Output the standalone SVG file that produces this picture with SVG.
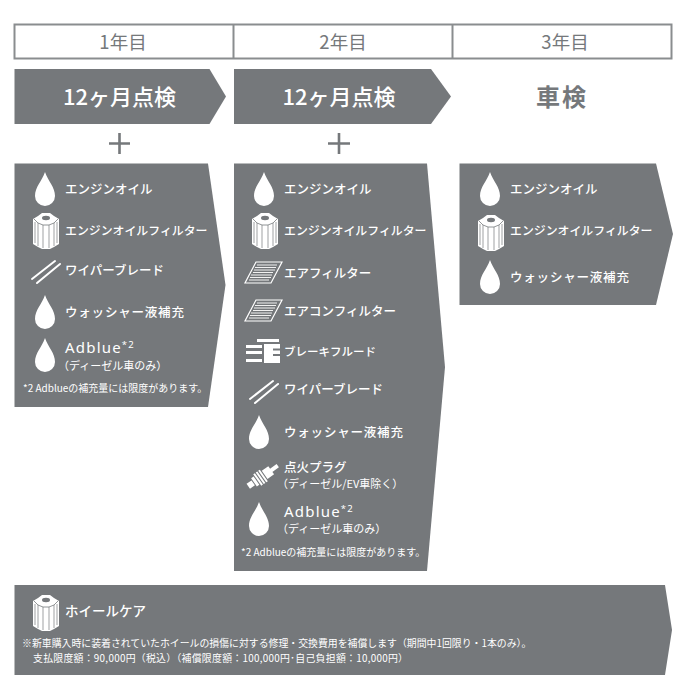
<svg xmlns="http://www.w3.org/2000/svg" width="685" height="687" viewBox="0 0 685 687">
<style>
text{font-family:"Noto Sans CJK JP","Noto Sans",sans-serif}
.p{fill:#75787b}
.h{font-size:18.500px;fill:#75787b;text-anchor:middle}
.t{font-size:22px;fill:#fff;text-anchor:middle;font-weight:500}
.i{font-size:12.500px;fill:#fff;font-weight:500}
.m{font-size:11.900px;fill:#fff;font-weight:500}
.u{font-size:12.500px;fill:#fff;font-weight:500;letter-spacing:.8px}
.s{font-size:11px;fill:#fff}
.n{font-size:10px;fill:#fff}
.a{font-size:15px;fill:#fff;font-family:"Noto Sans",sans-serif;letter-spacing:1.200px}
.f{font-size:9.900px;fill:#fff}
.w{fill:none;stroke:#fff;stroke-width:2;stroke-linecap:round}
.l{fill:none;stroke:#8a8d8f;stroke-width:2}
.plus{stroke:#75787b;stroke-width:2.600;fill:none}
</style>
<defs>
<path id="drop" d="M0-17C-3-8-10-2-10 7A10 10 0 0 0 10 7C10-2 3-8 0-17Z" fill="#fff"/>
<g id="filter">
<path d="M-13-11-8-14-4-17H4L8-14 13-11V14L8 17 4 19H-4L-8 17-13 14Z" fill="#fff"/>
<path d="M-8-7V16M-3-5V18M3-5V18M8-7V16M-11-8V13M11-8V13" stroke="#75787b" stroke-width=".7" fill="none"/>
<path d="M-12-11-8-7-3-5H3L8-7 12-11" stroke="#75787b" stroke-width=".8" fill="none"/>
<ellipse cx="0" cy="-12" rx="4" ry="2.200" fill="#75787b"/>
</g>
<g id="wiper"><path class="w" d="M-14 9 9-9M-9 13 14-6"/></g>
<g id="air">
<path d="M-7-11H19L8 10H-18Z" fill="none" stroke="#fff" stroke-width="1.200"/>
<path d="M-6-8H14M-8-5.500H13M-9-3H12M-10-.5H10M-12 2H9M-13 4.500H8M-14 7H6" stroke="#fff" stroke-width=".9"/>
</g>
<g id="brake">
<path d="M-6-12H16V-9H-6ZM-17-6H-1V-3H-17ZM-17 0H-1V3H-17ZM-17 8H-1V11H-17Z" fill="#fff"/>
<path d="M1-7H17V-2.500H10V-.5H17V3H10V5H17V12H1Z" fill="#fff"/>
</g>
<g id="plug">
<g transform="rotate(-35)">
<path d="M-18-3H-12V3H-18ZM-11-5H-8V5H-11ZM-7-7H-5V7H-7ZM-4-7H-2V7H-4ZM-1-7H1V7H-1ZM2-5H10V5H2ZM10-2H18V2H10Z" fill="#fff"/>
</g>
</g>
</defs>

<g id="header">
<rect class="l" x="14.500" y="24.500" width="657" height="34"/>
<path class="l" d="M233.500 24.500V58.500M452.500 24.500V58.500"/>
<text class="h" x="123" y="48.500">1年目</text>
<text class="h" x="343" y="48.500">2年目</text>
<text class="h" x="565" y="48.500">3年目</text>
</g>

<g id="inspect1">
<path class="p" d="M14.500 69H209.500L226 96.500 209.500 124H14.500Z"/>
<text class="t" x="119.500" y="105">12ヶ月点検</text>
</g>
<g id="inspect2">
<path class="p" d="M234 69H431L451 96.500 431 124H234Z"/>
<text class="t" x="339" y="105">12ヶ月点検</text>
</g>
<g id="inspect3">
<text x="562" y="106" style="font-size:24px;fill:#75787b;text-anchor:middle;font-weight:700;letter-spacing:2px">車検</text>
</g>
<g id="plus1"><path class="plus" d="M109 143.500H130M119.500 133V154"/></g>
<g id="plus2"><path class="plus" d="M328 143.500H350M339 133V154"/></g>

<g id="panel1">
<path class="p" d="M14.500 163.500H208L225.500 285 208 407H14.500Z"/>
<use href="#drop" x="45" y="189"/><text class="i" x="65" y="194">エンジンオイル</text>
<use href="#filter" x="46" y="230"/><text class="m" x="65" y="234.500">エンジンオイルフィルター</text>
<use href="#wiper" x="46" y="270"/><text class="i" x="65" y="275">ワイパーブレード</text>
<use href="#drop" x="45" y="312"/><text class="u" x="65" y="317">ウォッシャー液補充</text>
<use href="#drop" x="45" y="355"/>
<text class="a" x="65" y="353">Adblue<tspan font-size="9.500" dy="-5">*2</tspan></text>
<text class="s" x="58" y="369.500">（ディーゼル車のみ）</text>
<text class="n" x="23" y="392">*2 Adblueの補充量には限度があります。</text>
</g>

<g id="panel2">
<path class="p" d="M234 163.500H427L445 367 427 571H234Z"/>
<use href="#drop" x="264" y="189"/><text class="i" x="284" y="194">エンジンオイル</text>
<use href="#filter" x="265" y="230"/><text class="m" x="284" y="234.500">エンジンオイルフィルター</text>
<use href="#air" x="263" y="273"/><text class="i" x="284" y="278">エアフィルター</text>
<use href="#air" x="263" y="311"/><text class="i" x="284" y="316">エアコンフィルター</text>
<use href="#brake" x="263" y="351"/><text class="i" x="284" y="356" style="font-size:11.500px">ブレーキフルード</text>
<use href="#wiper" x="264" y="390"/><text class="i" x="284" y="394">ワイパーブレード</text>
<use href="#drop" x="259" y="432"/><text class="u" x="284" y="437">ウォッシャー液補充</text>
<use href="#plug" x="263" y="476"/>
<text class="i" x="284" y="472">点火プラグ</text>
<text class="s" x="277" y="488">（ディーゼル/EV車除く）</text>
<use href="#drop" x="259" y="519"/>
<text class="a" x="284" y="516.500">Adblue<tspan font-size="9.500" dy="-5">*2</tspan></text>
<text class="s" x="277" y="533">（ディーゼル車のみ）</text>
<text class="n" x="241" y="556">*2 Adblueの補充量には限度があります。</text>
</g>

<g id="panel3">
<path class="p" d="M459.500 163.500H656L673 234 656 305H459.500Z"/>
<use href="#drop" x="490" y="189"/><text class="i" x="510" y="194">エンジンオイル</text>
<use href="#filter" x="491" y="232"/><text class="m" x="510" y="234.500">エンジンオイルフィルター</text>
<use href="#drop" x="490" y="277"/><text class="u" x="510" y="282">ウォッシャー液補充</text>
</g>

<g id="wheelcare">
<path class="p" d="M14.500 585H665L672 630 665 675H14.500Z"/>
<use href="#filter" x="46" y="612"/>
<text class="i" x="65" y="616" style="font-size:13.500px">ホイールケア</text>
<text class="f" x="22" y="647">※新車購入時に装着されていたホイールの損傷に対する修理・交換費用を補償します（期間中1回限り・1本のみ）。</text>
<text class="f" x="33" y="662" style="letter-spacing:.27px">支払限度額：90,000円（税込）（補償限度額：100,000円･自己負担額：10,000円）</text>
</g>
</svg>
